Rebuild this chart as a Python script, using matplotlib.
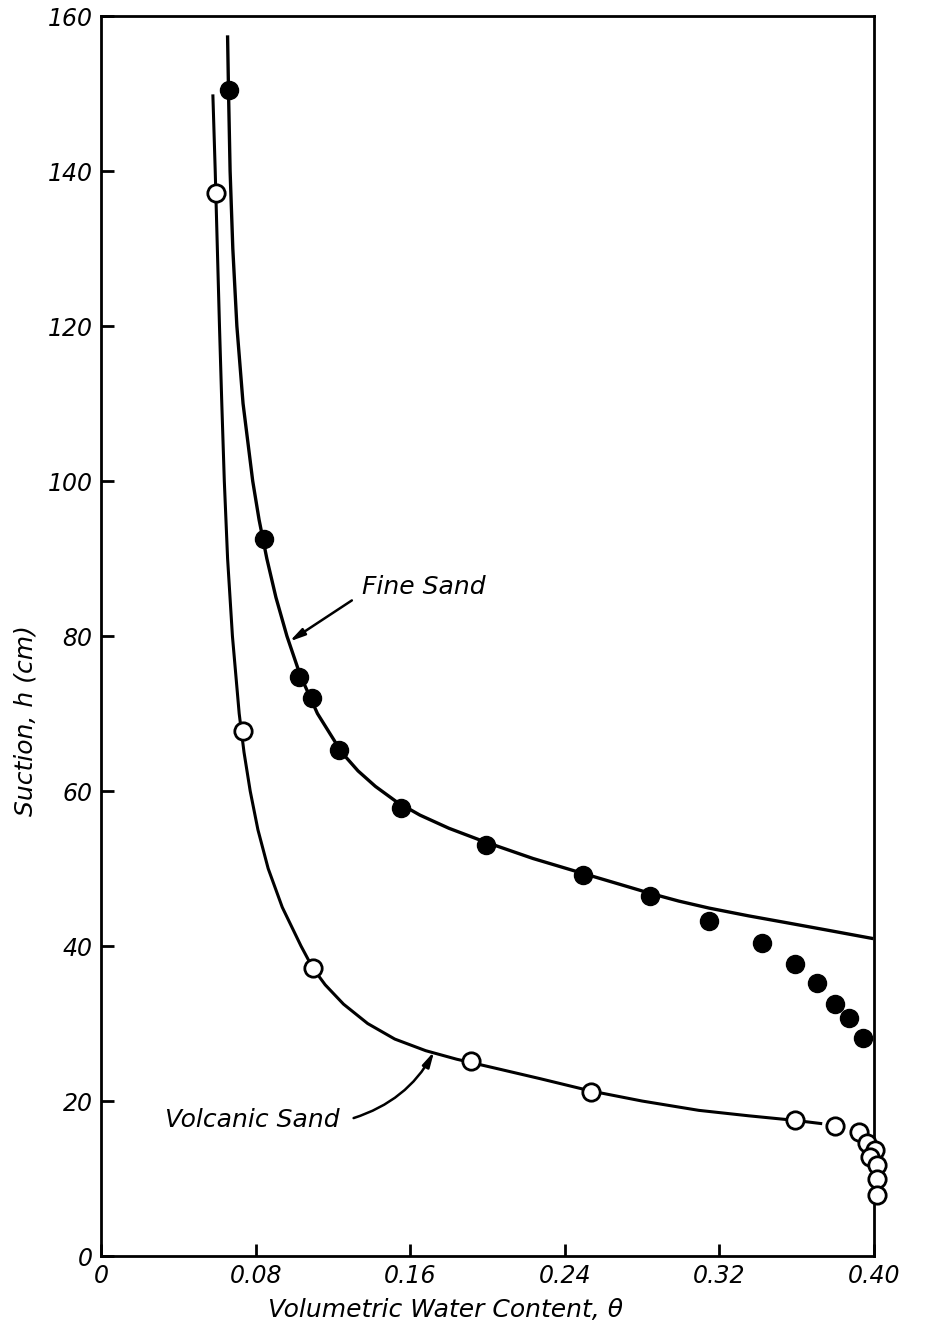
import numpy as np
import matplotlib.pyplot as plt

# measured points (theta, suction h in cm)
fine_theta = [0.0662, 0.0845, 0.1026, 0.1093, 0.1231, 0.155, 0.1994, 0.2495,
              0.2842, 0.3146, 0.342, 0.359, 0.3703, 0.380, 0.3873, 0.3944]
fine_h = [150.5, 92.5, 74.7, 72.0, 65.3, 57.8, 53.0, 49.2,
          46.5, 43.2, 40.4, 37.7, 35.2, 32.5, 30.7, 28.1]

volc_theta = [0.0595, 0.0733, 0.1095, 0.1913, 0.2534, 0.3593, 0.3797, 0.3921,
              0.3962, 0.4006, 0.398, 0.4014, 0.4014, 0.4013]
volc_h = [137.2, 67.7, 37.2, 25.2, 21.2, 17.5, 16.8, 16.0,
          14.6, 13.7, 12.8, 11.7, 9.9, 7.9]

# fitted curves
fine_curve_theta = [0.0655, 0.0660, 0.0668, 0.0682, 0.0703, 0.0735, 0.0785, 0.0818,
                    0.0858, 0.0905, 0.0962, 0.1030, 0.1120, 0.1245, 0.1330, 0.1420,
                    0.1530, 0.1650, 0.1800, 0.1980, 0.2235, 0.2490, 0.2680, 0.2842,
                    0.2990, 0.3146, 0.3350, 0.3550, 0.3770, 0.3987]
fine_curve_h = [157.3, 150.0, 140.0, 130.0, 120.0, 110.0, 100.0, 95.0,
                90.0, 85.0, 80.0, 75.0, 70.0, 65.0, 62.6, 60.6,
                58.6, 56.9, 55.2, 53.5, 51.3, 49.4, 48.0, 46.8,
                45.8, 44.9, 43.9, 43.0, 42.0, 41.0]

volc_curve_theta = [0.0579, 0.0591, 0.0602, 0.0613, 0.0625, 0.0638, 0.0655, 0.0680,
                    0.0715, 0.0740, 0.0772, 0.0812, 0.0865, 0.0938, 0.1035, 0.1095,
                    0.1160, 0.1255, 0.1380, 0.1520, 0.1680, 0.1840, 0.2030, 0.2270,
                    0.2534, 0.2800, 0.3093, 0.3350, 0.3593, 0.3724]
volc_curve_h = [149.7, 140.0, 130.0, 120.0, 110.0, 100.0, 90.0, 80.0,
                70.0, 65.0, 60.0, 55.0, 50.0, 45.0, 40.0, 37.2,
                35.0, 32.5, 30.0, 28.0, 26.5, 25.4, 24.3, 22.9,
                21.3, 20.0, 18.8, 18.1, 17.5, 17.1]

x_ticks = [0, 0.08, 0.16, 0.24, 0.32, 0.40]
x_labels = ['0', '0.08', '0.16', '0.24', '0.32', '0.40']
y_ticks = [0, 20, 40, 60, 80, 100, 120, 140, 160]
y_labels = ['0', '20', '40', '60', '80', '100', '120', '140', '160']

fig = plt.figure(figsize=(9.25, 13.29), dpi=100)
ax = fig.add_axes([0.1092, 0.0549, 0.8357, 0.9330])

ax.plot(fine_curve_theta, fine_curve_h, color='black', lw=2.4, zorder=2)
ax.plot(volc_curve_theta, volc_curve_h, color='black', lw=2.2, zorder=2)
ax.plot(fine_theta, fine_h, 'o', ms=13, mfc='black', mec='black', zorder=3, clip_on=False)
ax.plot(volc_theta, volc_h, 'o', ms=12.5, mfc='white', mec='black', mew=2,
        zorder=3, clip_on=False)

ax.set_xlim(0, 0.40)
ax.set_ylim(0, 160)
ax.set_xticks(x_ticks)
ax.set_xticklabels(x_labels)
ax.set_yticks(y_ticks)
ax.set_yticklabels(y_labels)
ax.tick_params(direction='in', length=9, width=2, labelsize=17, pad=6)
for lab in ax.get_xticklabels() + ax.get_yticklabels():
    lab.set_style('italic')
for s in ax.spines.values():
    s.set_linewidth(2)

ax.set_xlabel('Volumetric Water Content, θ', fontsize=18, style='italic', va='center')
ax.xaxis.set_label_coords(0.445, -0.0435)
ax.set_ylabel('Suction, h (cm)', fontsize=18, style='italic', va='center')
ax.yaxis.set_label_coords(-0.098, 0.432)

# curve labels
ax.text(0.167, 86.3, 'Fine Sand', fontsize=18, style='italic', ha='center', va='center')
ax.annotate('', xy=(0.0975, 79.3), xytext=(0.1298, 84.6),
            arrowprops=dict(arrowstyle='-|>,head_length=0.9,head_width=0.22',
                            color='black', lw=1.8, shrinkA=0, shrinkB=0))
ax.text(0.0785, 17.5, 'Volcanic Sand', fontsize=18, style='italic', ha='center', va='center')
ax.annotate('', xy=(0.1724, 26.4), xytext=(0.1307, 17.8),
            arrowprops=dict(arrowstyle='-|>,head_length=0.9,head_width=0.22',
                            color='black', lw=1.8, shrinkA=0, shrinkB=0,
                            connectionstyle='arc3,rad=0.2'))

fig.savefig('out.png', dpi=100)
